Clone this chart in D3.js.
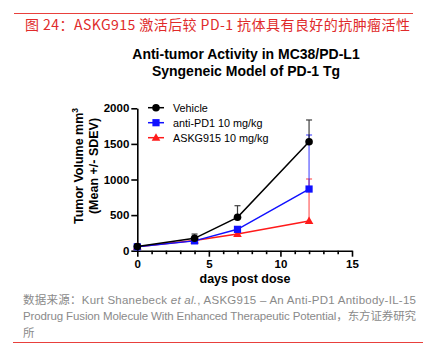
<!DOCTYPE html>
<html><head><meta charset="utf-8">
<script src="https://cdn.jsdelivr.net/npm/d3@7"></script>
<style>body{margin:0;background:#fff}svg{display:block}</style>
</head><body>
<script>
const days = [0, 4, 7, 12];
const seriesNames = ["Vehicle", "anti-PD1 10 mg/kg", "ASKG915 10 mg/kg"];
const vehicleMean = [58, 174, 469, 1531];
const vehicleSD   = [8, 60, 163, 305];
const antiPD1Mean = [55, 138, 300, 866];
const antiPD1SD   = [5, 15, 35, 759];
const askgMean    = [55, 142, 235, 417];
const askgSD      = [5, 12, 25, 590];
const xTicks = [0, 5, 10, 15];
const yTicks = [0, 500, 1000, 1500, 2000];
const colors = ["#000000", "#1010ff", "#ff1a1a"];
const markers = ["circle", "square", "triangle"];

const W = 423, H = 360;
const svg = d3.select("body").append("svg").attr("width", W).attr("height", H);
const font = "'Liberation Sans', Arial, sans-serif";

// header
svg.append("line").attr("x1",14).attr("x2",413).attr("y1",13.5).attr("y2",13.5).attr("stroke","#e8403c").attr("stroke-width",1);
svg.append("text").attr("x",25).attr("y",30).attr("fill","#e02a2a").attr("font-family","'Noto Sans CJK SC', sans-serif")
  .attr("font-size",14).attr("font-weight",400).attr("textLength",385).attr("lengthAdjust","spacing")
  .text("图 24：ASKG915 激活后较 PD-1 抗体具有良好的抗肿瘤活性");

// title
const title = svg.append("g").attr("font-family",font).attr("font-weight","bold").attr("font-size",14).attr("text-anchor","middle");
title.append("text").attr("x",246).attr("y",59).text("Anti-tumor Activity in MC38/PD-L1");
title.append("text").attr("x",246).attr("y",76).text("Syngeneic Model of PD-1 Tg");

const x = d3.scaleLinear().domain([0,15]).range([137.3,352]);
const y = d3.scaleLinear().domain([0,2000]).range([250.7,108.3]);

// axes
const xAxis = svg.append("g").attr("transform","translate(0,250.7)")
  .call(d3.axisBottom(x).tickValues(xTicks).tickSize(6).tickSizeOuter(0).tickPadding(3).tickFormat(d3.format("d")));
const xMinor = svg.append("g").attr("transform","translate(0,250.7)")
  .call(d3.axisBottom(x).tickValues(d3.range(0,16).filter(d=>d%5)).tickSize(3.5).tickFormat(""));
xMinor.select(".domain").remove();
const yAxis = svg.append("g").attr("transform","translate(137.3,0)")
  .call(d3.axisLeft(y).tickValues(yTicks).tickSize(6).tickSizeOuter(0).tickPadding(2).tickFormat(d3.format("d")));
[xAxis,xMinor,yAxis].forEach(g=>{
  g.selectAll("path,line").attr("stroke","#000").attr("stroke-width",1.6);
  g.selectAll("text").attr("font-family",font).attr("font-weight","bold").attr("font-size",11.5).attr("fill","#000");
});
xAxis.selectAll("text").attr("dy","0.75em");

// axis labels
svg.append("text").attr("x",245).attr("y",283).attr("text-anchor","middle").attr("font-family",font)
  .attr("font-weight","bold").attr("font-size",12.5).text("days post dose");
const yl = svg.append("text").attr("transform","translate(83,166) rotate(-90)").attr("text-anchor","middle")
  .attr("font-family",font).attr("font-weight","bold").attr("font-size",12.5);
yl.append("tspan").text("Tumor Volume mm");
yl.append("tspan").attr("font-size",8.5).attr("dy",-5).text("3");
svg.append("text").attr("transform","translate(98,166) rotate(-90)").attr("text-anchor","middle")
  .attr("font-family",font).attr("font-weight","bold").attr("font-size",12.5).text("(Mean +/- SDEV)");

const means = [vehicleMean, antiPD1Mean, askgMean];
const sds = [vehicleSD, antiPD1SD, askgSD];

function drawMarker(g, type, cx, cy, color){
  if(type==="circle") g.append("circle").attr("cx",cx).attr("cy",cy).attr("r",3.8).attr("fill",color);
  else if(type==="square") g.append("rect").attr("x",cx-3.6).attr("y",cy-3.6).attr("width",7.2).attr("height",7.2).attr("fill",color);
  else g.append("path").attr("d",d3.symbol(d3.symbolTriangle,32)()).attr("transform",`translate(${cx},${cy+0.5})`).attr("fill",color);
}

const plot = svg.append("g");
// error bars drawn back to front (red, blue, black)
[2,1,0].forEach(i=>{
  const eg = plot.append("g").attr("stroke",colors[i]).attr("stroke-width",1.2).attr("opacity", i===0?0.75:0.7);
  days.forEach((d,j)=>{
    const x0 = x(d), y0 = y(means[i][j]), y1 = y(means[i][j]+sds[i][j]);
    eg.append("line").attr("x1",x0).attr("x2",x0).attr("y1",y0).attr("y2",y1);
    eg.append("line").attr("x1",x0-3).attr("x2",x0+3).attr("y1",y1).attr("y2",y1);
  });
});
[2,1,0].forEach(i=>{
  const line = d3.line().x((d,j)=>x(days[j])).y(d=>y(d));
  plot.append("path").datum(means[i]).attr("d",line).attr("fill","none").attr("stroke",colors[i]).attr("stroke-width",1.5);
  days.forEach((d,j)=>drawMarker(plot, markers[i], x(d), y(means[i][j]), colors[i]));
});

// legend
const lg = svg.append("g").attr("font-family",font).attr("font-size",10.8);
seriesNames.forEach((n,i)=>{
  const yy = 107.7 + i*15;
  lg.append("line").attr("x1",148).attr("x2",164).attr("y1",yy).attr("y2",yy).attr("stroke",colors[i]).attr("stroke-width",1.5);
  drawMarker(lg, markers[i], 156, yy, colors[i]);
  lg.append("text").attr("x",173).attr("y",yy+4).attr("fill","#000").text(n);
});

// footer
const fg = svg.append("g").attr("font-family","'Liberation Sans', 'Noto Sans CJK SC', sans-serif").attr("font-size",11.5).attr("fill","#8a8a8a");
const l1 = fg.append("text").attr("x",23).attr("y",304).attr("textLength",393).attr("lengthAdjust","spacing");
l1.append("tspan").attr("font-family","'Noto Sans CJK SC', sans-serif").text("数据来源：");
l1.append("tspan").text("Kurt Shanebeck ");
l1.append("tspan").attr("font-style","italic").text("et al.");
l1.append("tspan").text(", ASKG915 – An Anti-PD1 Antibody-IL-15");
const l2 = fg.append("text").attr("x",23).attr("y",320).attr("textLength",393).attr("lengthAdjust","spacing");
l2.append("tspan").text("Prodrug Fusion Molecule With Enhanced Therapeutic Potential");
l2.append("tspan").attr("font-family","'Noto Sans CJK SC', sans-serif").text("，东方证券研究");
fg.append("text").attr("x",23).attr("y",337).attr("font-family","'Noto Sans CJK SC', sans-serif").text("所");
svg.append("line").attr("x1",13).attr("x2",423).attr("y1",342.5).attr("y2",342.5).attr("stroke","#e8403c").attr("stroke-width",1);
</script>
</body></html>
